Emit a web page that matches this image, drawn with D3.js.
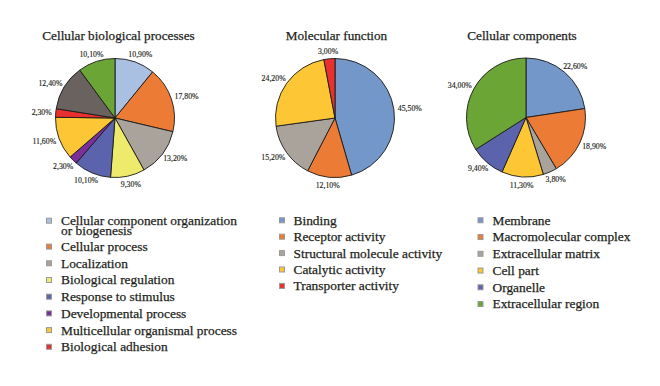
<!DOCTYPE html>
<html>
<head>
<meta charset="utf-8">
<script src="https://cdn.jsdelivr.net/npm/d3@7"></script>
<style>
  html, body { margin: 0; padding: 0; background: #ffffff; }
  svg { display: block; }
  text { font-family: "Liberation Serif", "DejaVu Serif", serif; fill: #231f20; }
  .heavy { stroke: #231f20; stroke-width: 0.25; }
</style>
</head>
<body>
<svg id="chart" width="660" height="386"></svg>
<script>
// ---- Data ----
const bioTitle = "Cellular biological processes";
const bioCategories = [
  "Cellular component organization\nor biogenesis",
  "Cellular process",
  "Localization",
  "Biological regulation",
  "Response to stimulus",
  "Developmental process",
  "Multicellular organismal process",
  "Biological adhesion",
  "",
  ""
];
const bioValues = [10.9, 17.8, 13.2, 9.3, 10.1, 2.3, 11.6, 2.3, 12.4, 10.1];
const bioColors = ["#a9c0e3", "#ec7b35", "#aaa39c", "#eeeb6c", "#5b63ad", "#7a2f9a", "#fdc634", "#e8312f", "#6a625e", "#6ba536"];

const molTitle = "Molecular function";
const molCategories = ["Binding", "Receptor activity", "Structural molecule activity", "Catalytic activity", "Transporter activity"];
const molValues = [45.5, 12.1, 15.2, 24.2, 3.0];
const molColors = ["#7297c8", "#ec7b35", "#aaa39c", "#fdc634", "#e8312f"];

const compTitle = "Cellular components";
const compCategories = ["Membrane", "Macromolecular complex", "Extracellular matrix", "Cell part", "Organelle", "Extracellular region"];
const compValues = [22.6, 18.9, 3.8, 11.3, 9.4, 34.0];
const compColors = ["#7297c8", "#ec7b35", "#aaa39c", "#fdc634", "#5b63ad", "#6ba536"];

// ---- Layout ----
const svg = d3.select("#chart");
svg.append("rect").attr("width", 660).attr("height", 386).attr("fill", "#ffffff");

const radius = 59.5;
const fmt = v => d3.format(".2f")(v).replace(".", ",") + "%";

function drawPie(cfg) {
  const g = svg.append("g").attr("transform", `translate(${cfg.cx},${cfg.cy})`);
  const data = cfg.values.map((v, i) => ({ value: v, color: cfg.colors[i] }));
  const pie = d3.pie().value(d => d.value).sort(null);
  const arcs = pie(data);
  const arc = d3.arc().innerRadius(0).outerRadius(radius);

  g.selectAll("path.slice").data(arcs).join("path")
    .attr("class", "slice")
    .attr("d", arc)
    .attr("fill", d => d.data.color)
    .attr("stroke", "#1a1a1a")
    .attr("stroke-width", 0.9)
    .attr("stroke-linejoin", "round");

  // labels: outside end
  const R = radius + 4;
  arcs.forEach(a => {
    const th = (a.startAngle + a.endAngle) / 2;
    const s = Math.sin(th), c = Math.cos(th);
    const t = g.append("text")
      .attr("font-size", 7.8)
      .attr("class", "heavy")
      .style("stroke-width", 0.15)
      .attr("text-anchor", "middle")
      .attr("dy", "0.35em")
      .text(fmt(a.data.value));
    const w = t.node().getComputedTextLength();
    const h = 7.8;
    const x = R * s + s * w / 2;
    const y = -R * c - c * h / 2;
    t.attr("x", x).attr("y", y);
  });

  svg.append("text")
    .attr("class", "heavy")
    .attr("x", cfg.titleX).attr("y", cfg.titleY)
    .attr("text-anchor", "middle")
    .attr("font-size", 13.2)
    .text(cfg.title);
}

function drawLegend(cfg) {
  const g = svg.append("g");
  let y = cfg.y0;
  cfg.categories.forEach((name, i) => {
    if (!name) return;
    const lines = name.split("\n");
    g.append("rect")
      .attr("x", cfg.sx - 2.5).attr("y", y - 2.5)
      .attr("width", 5).attr("height", 5)
      .attr("fill", cfg.colors[i])
      .attr("stroke", "#9a9a9a").attr("stroke-width", 1);
    const t = g.append("text")
      .attr("class", "heavy")
      .attr("x", cfg.tx).attr("y", y)
      .attr("font-size", 13.4);
    lines.forEach((ln, k) => {
      t.append("tspan").attr("x", cfg.tx)
        .attr("dy", k === 0 ? "0.33em" : 9.6)
        .text(ln);
    });
    y += cfg.step + (lines.length - 1) * 9.2;
  });
}

drawPie({ cx: 115, cy: 118, values: bioValues, colors: bioColors, title: bioTitle, titleX: 118.5, titleY: 40 });
drawPie({ cx: 335, cy: 118, values: molValues, colors: molColors, title: molTitle, titleX: 336.5, titleY: 40 });
drawPie({ cx: 526, cy: 117.5, values: compValues, colors: compColors, title: compTitle, titleX: 522, titleY: 40 });

drawLegend({ categories: bioCategories, colors: bioColors, sx: 49, tx: 61, y0: 220.7, step: 16.7 });
drawLegend({ categories: molCategories, colors: molColors, sx: 282, tx: 293.5, y0: 220.3, step: 16.4 });
drawLegend({ categories: compCategories, colors: compColors, sx: 480.5, tx: 492.5, y0: 220.3, step: 16.75 });
</script>
</body>
</html>
